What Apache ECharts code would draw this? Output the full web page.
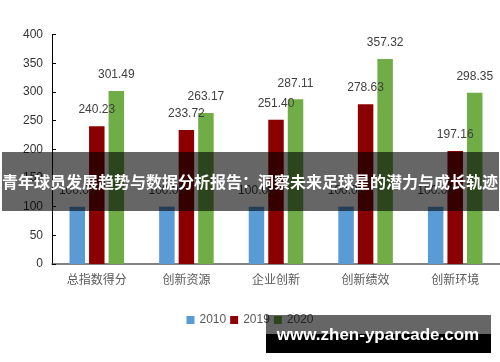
<!DOCTYPE html>
<html>
<head>
<meta charset="utf-8">
<script src="https://cdn.jsdelivr.net/npm/echarts@6/dist/echarts.min.js"></script>
<style>
  html, body { margin: 0; padding: 0; background: #fff; }
  #main { width: 500px; height: 362px; }
</style>
</head>
<body>
<div id="main"></div>
<script>
var categories = ['总指数得分', '创新资源', '企业创新', '创新绩效', '创新环境'];
var years = ['2010', '2019', '2020'];
var values2010 = [100, 100, 100, 100, 100];
var values2019 = [240.23, 233.72, 251.40, 278.63, 197.16];
var values2020 = [301.49, 263.17, 287.11, 357.32, 298.35];
var yTicks = [0, 50, 100, 150, 200, 250, 300, 350, 400];
var colors = ['#5b9bd5', '#8b0000', '#70ad47'];

var titleText = '青年球员发展趋势与数据分析报告：洞察未来足球星的潜力与成长轨迹';
var siteText = 'www.zhen-yparcade.com';

var myChart = echarts.init(document.getElementById('main'));

function barSeries(name, data, color) {
    return {
        name: name,
        type: 'bar',
        data: data,
        barWidth: 15.5,
        barGap: '26%',
        itemStyle: { color: color },
        label: {
            show: true,
            position: 'top',
            distance: 10,
            formatter: function (p) { return p.value.toFixed(2); },
            color: '#404040',
            fontSize: 12,
            fontFamily: 'Liberation Sans, sans-serif'
        }
    };
}

var option = {
    animation: false,
    color: colors,
    grid: { left: 52, right: 0, top: 34.5, bottom: 98 },
    legend: {
        data: years,
        left: 'center',
        top: 309,
        icon: 'rect',
        itemWidth: 8,
        itemHeight: 8,
        itemGap: 4,
        textStyle: { color: '#595959', fontSize: 12, fontFamily: 'Liberation Sans, sans-serif' }
    },
    xAxis: {
        type: 'category',
        data: categories,
        axisLine: { lineStyle: { color: '#595959', width: 1.5 } },
        axisTick: { show: false },
        axisLabel: { color: '#595959', fontSize: 12, margin: 9, fontFamily: 'Noto Sans CJK SC' }
    },
    yAxis: {
        type: 'value',
        min: yTicks[0],
        max: yTicks[yTicks.length - 1],
        interval: yTicks[1] - yTicks[0],
        axisLine: { show: true, lineStyle: { color: '#000', width: 1 } },
        axisTick: { show: true, inside: true, length: 4, lineStyle: { color: '#000' } },
        splitLine: { show: false },
        axisLabel: { color: '#333', fontSize: 12, margin: 9, fontFamily: 'Liberation Sans, sans-serif' }
    },
    series: [
        barSeries(years[0], values2010, colors[0]),
        barSeries(years[1], values2019, colors[1]),
        barSeries(years[2], values2020, colors[2])
    ],
    graphic: [
        {
            type: 'rect', z: 100,
            shape: { x: 2, y: 152, width: 497, height: 59 },
            style: { fill: 'rgba(0,0,0,0.6)' }
        },
        {
            type: 'text', z: 101,
            style: {
                x: 250, y: 182, text: titleText,
                fill: '#fff', font: 'bold 16px "Noto Sans CJK SC"',
                textAlign: 'center', textVerticalAlign: 'middle'
            }
        },
        {
            type: 'rect', z: 100,
            shape: { x: 266, y: 315, width: 225, height: 19 },
            style: { fill: 'rgba(0,0,0,0.6)' }
        },
        {
            type: 'rect', z: 100,
            shape: { x: 266, y: 334, width: 225, height: 19 },
            style: { fill: '#000' }
        },
        {
            type: 'text', z: 101,
            style: {
                x: 378, y: 335, text: siteText,
                fill: '#fff', font: 'bold 17px "Liberation Sans"',
                textAlign: 'center', textVerticalAlign: 'middle'
            }
        }
    ]
};

myChart.setOption(option);
</script>
</body>
</html>
